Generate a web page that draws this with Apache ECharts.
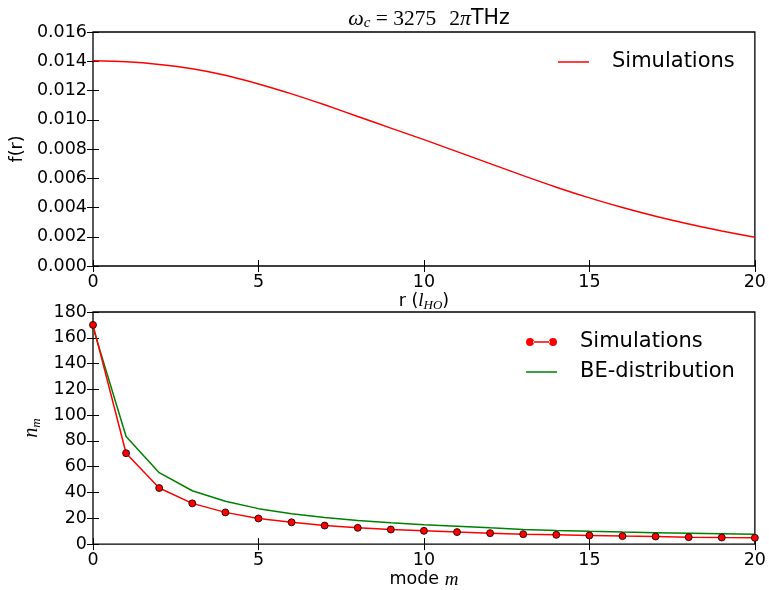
<!DOCTYPE html>
<html>
<head>
<meta charset="utf-8">
<script src="https://cdn.jsdelivr.net/npm/echarts@6/dist/echarts.min.js"></script>
<style>
  html, body { margin: 0; padding: 0; background: #fff; }
  #chart { width: 769px; height: 590px; }
</style>
</head>
<body>
<div id="chart"></div>
<script>
// Radial profile f(r), sampled at integer r (units of l_HO)
const radius = [0, 1, 2, 3, 4, 5, 6, 7, 8, 9, 10, 11, 12, 13, 14, 15, 16, 17, 18, 19, 20];
const profile = [0.01403, 0.01396, 0.01378, 0.01349, 0.01304, 0.01245, 0.01177, 0.01102,
  0.01022, 0.00943, 0.00864, 0.00782, 0.00700, 0.00618, 0.00539, 0.00466,
  0.00400, 0.00340, 0.00287, 0.00240, 0.00197];

// Mode occupation n_m
const modes = [0, 1, 2, 3, 4, 5, 6, 7, 8, 9, 10, 11, 12, 13, 14, 15, 16, 17, 18, 19, 20];
const simOccupation = [170, 70.5, 43.5, 31.6, 24.6, 19.9, 16.9, 14.4, 12.6, 11.3, 10.3,
  9.3, 8.5, 7.7, 7.2, 6.7, 6.2, 5.9, 5.4, 5.1, 4.9];
const beOccupation = [168, 83.4, 55.4, 41.4, 33.2, 27.5, 23.6, 20.6, 18.3, 16.5, 15.0,
  13.9, 12.6, 11.4, 10.6, 9.9, 9.3, 8.8, 8.4, 8.0, 7.7];

const xTicks = { min: 0, max: 20, interval: 5 };
const fTicks = { min: 0, max: 0.016, interval: 0.002 };
const nTicks = { min: 0, max: 180, interval: 20 };

const SANS = 'DejaVu Sans';
const SERIF = 'Liberation Serif';
const TICK_FONT = 17.5;
const LEGEND_FONT = 21;

const LINE_ICON = 'path://M0,0L31,0L31,1.5L0,1.5z';
const MARKER_LINE_ICON = 'path://M0,4a4,4 0 1,0 8,0a4,4 0 1,0 -8,0z M7,3.35L24,3.35L24,4.65L7,4.65z M23,4a4,4 0 1,0 8,0a4,4 0 1,0 -8,0z';

const chart = echarts.init(document.getElementById('chart'), null, { renderer: 'canvas' });

function makeXAxis(gridIndex, position, showLabel, name) {
  return {
    type: 'value', gridIndex, position,
    min: xTicks.min, max: xTicks.max, interval: xTicks.interval,
    axisLine: { show: false },
    axisTick: { show: true, inside: true, length: 6, lineStyle: { color: '#000', width: 1 } },
    axisLabel: { show: showLabel, margin: 7, color: '#000', fontFamily: SANS, fontSize: TICK_FONT },
    splitLine: { show: false },
    name: name || '',
    nameLocation: 'middle',
    nameGap: 24,
    nameTextStyle: name ? {
      color: '#000', fontFamily: SANS, fontSize: 17.5,
      rich: {
        t: { fontFamily: SANS, fontSize: 17.5, color: '#000' },
        it: { fontFamily: SERIF, fontStyle: 'italic', fontSize: 19, color: '#000' },
        sub: { fontFamily: SERIF, fontStyle: 'italic', fontSize: 13, color: '#000', padding: [9, 0, 0, 0] }
      }
    } : undefined
  };
}

function makeYAxis(gridIndex, position, ticks, showLabel, fmt, name, nameGap, nameStyle) {
  return {
    type: 'value', gridIndex, position,
    min: ticks.min, max: ticks.max, interval: ticks.interval,
    axisLine: { show: false },
    axisTick: { show: true, inside: true, length: 6, lineStyle: { color: '#000', width: 1 } },
    axisLabel: { show: showLabel, margin: 6, color: '#000', fontFamily: SANS, fontSize: TICK_FONT, formatter: fmt },
    splitLine: { show: false },
    name: name || '',
    nameLocation: 'middle',
    nameGap: nameGap || 0,
    nameRotate: 90,
    nameTextStyle: nameStyle
  };
}

const option = {
  animation: false,
  backgroundColor: '#fff',
  title: {
    text: '{w|ω}{sub|c}{eq| = 3275}{two|2}{w|π}{t|THz}',
    left: 424,
    textAlign: 'center',
    top: 2,
    textStyle: {
      fontWeight: 'normal',
      rich: {
        w: { fontFamily: SERIF, fontStyle: 'italic', fontWeight: 'normal', fontSize: 22, color: '#000' },
        sub: { fontFamily: SERIF, fontStyle: 'italic', fontWeight: 'normal', fontSize: 15, color: '#000', padding: [9, 0, 0, 0] },
        eq: { fontFamily: SERIF, fontWeight: 'normal', fontSize: 21.5, color: '#000' },
        two: { fontFamily: SERIF, fontWeight: 'normal', fontSize: 21.5, color: '#000', padding: [0, 0, 0, 13] },
        t: { fontFamily: SANS, fontWeight: 'normal', fontSize: 20.5, color: '#000' }
      }
    }
  },
  grid: [
    { left: 93, right: 14, top: 32, height: 234, show: true, borderColor: '#000', borderWidth: 1.3, backgroundColor: 'transparent' },
    { left: 93, right: 14, top: 312, height: 234, show: true, borderColor: '#000', borderWidth: 1.3, backgroundColor: 'transparent' }
  ],
  legend: [
    {
      left: 558, top: 50, padding: 0,
      itemWidth: 31, itemHeight: 14,
      data: [{ name: 'profile', icon: LINE_ICON, itemStyle: { color: '#ff0000', borderWidth: 0 } }],
      formatter: () => 'Simulations',
      textStyle: { fontFamily: SANS, fontSize: LEGEND_FONT, color: '#000', lineHeight: 24, padding: [0, 0, 0, 18] },
      selectedMode: false
    },
    {
      left: 526, top: 330, orient: 'vertical', padding: 0,
      itemWidth: 31, itemHeight: 14, itemGap: 6,
      data: [
        { name: 'modesSim', icon: MARKER_LINE_ICON, itemStyle: { color: '#ff0000', borderWidth: 0 } },
        { name: 'modesBE', icon: LINE_ICON, itemStyle: { color: '#008000', borderWidth: 0 } }
      ],
      formatter: (n) => (n === 'modesSim' ? 'Simulations' : 'BE-distribution'),
      textStyle: { fontFamily: SANS, fontSize: LEGEND_FONT, color: '#000', lineHeight: 24, padding: [0, 0, 0, 18] },
      selectedMode: false
    }
  ],
  xAxis: [
    makeXAxis(0, 'bottom', true, '{t|r (}{it|l}{sub|HO}{t|)}'),
    makeXAxis(0, 'top', false),
    makeXAxis(1, 'bottom', true, '{t|mode }{it|m}'),
    makeXAxis(1, 'top', false)
  ],
  yAxis: [
    makeYAxis(0, 'left', fTicks, true, (v) => v.toFixed(3), 'f(r)', 56,
      { color: '#000', fontFamily: SANS, fontSize: 17.5 }),
    makeYAxis(0, 'right', fTicks, false),
    makeYAxis(1, 'left', nTicks, true, (v) => String(v), '{it|n}{sub|m}', 42,
      { color: '#000', rich: {
        it: { fontFamily: SERIF, fontStyle: 'italic', fontSize: 20, color: '#000' },
        sub: { fontFamily: SERIF, fontStyle: 'italic', fontSize: 13, color: '#000', padding: [9, 0, 0, 0] }
      } }),
    makeYAxis(1, 'right', nTicks, false)
  ],
  series: [
    {
      name: 'profile', type: 'line', xAxisIndex: 0, yAxisIndex: 0,
      data: radius.map((r, i) => [r, profile[i]]),
      symbol: 'none', smooth: 0.3,
      lineStyle: { color: '#ff0000', width: 1.5 },
      itemStyle: { color: '#ff0000' }
    },
    {
      name: 'modesSim', type: 'line', xAxisIndex: 2, yAxisIndex: 2,
      data: modes.map((m, i) => [m, simOccupation[i]]),
      symbol: 'circle', symbolSize: 7, showSymbol: true,
      lineStyle: { color: '#ff0000', width: 1.5 },
      itemStyle: { color: '#ff0000', borderColor: '#000', borderWidth: 0.8 },
      z: 3
    },
    {
      name: 'modesBE', type: 'line', xAxisIndex: 2, yAxisIndex: 2,
      data: modes.map((m, i) => [m, beOccupation[i]]),
      symbol: 'none',
      lineStyle: { color: '#008000', width: 1.5 },
      itemStyle: { color: '#008000' },
      z: 2
    }
  ]
};

chart.setOption(option);
</script>
</body>
</html>
